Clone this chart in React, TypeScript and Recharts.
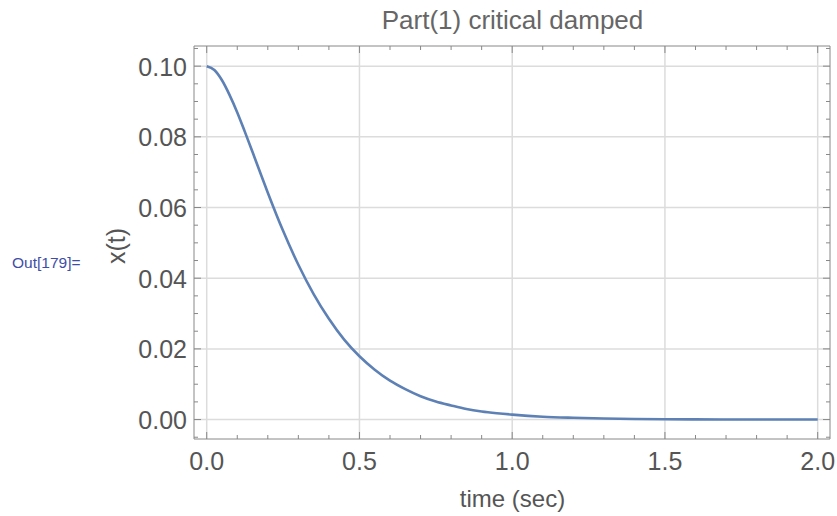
import { LineChart, Line, XAxis, YAxis, ReferenceLine } from "recharts";

// time samples (sec) and displacement
const time = [
  0, 0.025, 0.05, 0.075, 0.1, 0.125, 0.15, 0.175, 0.2, 0.25, 0.3, 0.35, 0.4, 0.45, 0.5, 0.55, 0.6, 0.65, 0.7,
  0.75, 0.8, 0.85, 0.9, 0.95, 1.0, 1.1, 1.2, 1.3, 1.4, 1.5, 1.6, 1.7, 1.8, 1.9, 2.0,
];
const xValues = [
  0.1, 0.0989, 0.096, 0.0918, 0.0869, 0.0814, 0.0757, 0.0699, 0.0642, 0.0534, 0.0438, 0.0355, 0.0285, 0.0226,
  0.0179, 0.0141, 0.011, 0.0086, 0.0066, 0.0051, 0.004, 0.003, 0.0023, 0.0018, 0.0014, 0.0008, 0.0005, 0.0003,
  0.00015, 0.00008, 0.00005, 0.00003, 0.00001, 0.00001, 0,
];

const xMajor = [0, 0.5, 1, 1.5, 2];
const xTicks = [0, 0.1, 0.2, 0.3, 0.4, 0.5, 0.6, 0.7, 0.8, 0.9, 1, 1.1, 1.2, 1.3, 1.4, 1.5, 1.6, 1.7, 1.8, 1.9, 2];
const yMajor = [0, 0.02, 0.04, 0.06, 0.08, 0.1];
const yTicks = [
  -0.005, 0, 0.005, 0.01, 0.015, 0.02, 0.025, 0.03, 0.035, 0.04, 0.045, 0.05, 0.055, 0.06, 0.065, 0.07, 0.075,
  0.08, 0.085, 0.09, 0.095, 0.1, 0.105,
];

const data = time.map((t, i) => ({ t, x: xValues[i] }));

const FRAME = "#888888";
const LABEL = "#555555";
const FONT = "'Liberation Sans', Arial, sans-serif";

const isMajor = (v: number, list: number[]) => list.some((m) => Math.abs(m - v) < 1e-9);

function BottomTick(props: any) {
  const { x, y, payload } = props;
  const major = isMajor(payload.value, xMajor);
  return (
    <g>
      <line x1={x} x2={x} y1={y} y2={y - (major ? 7 : 4)} stroke={FRAME} />
      {major && (
        <text x={x} y={y + 31} textAnchor="middle" fill={LABEL} fontSize={25} fontFamily={FONT}>
          {payload.value.toFixed(1)}
        </text>
      )}
    </g>
  );
}

function TopTick(props: any) {
  const { x, y, payload } = props;
  const major = isMajor(payload.value, xMajor);
  return <line x1={x} x2={x} y1={y} y2={y + (major ? 7 : 4)} stroke={FRAME} />;
}

function LeftTick(props: any) {
  const { x, y, payload } = props;
  const major = isMajor(payload.value, yMajor);
  return (
    <g>
      <line x1={x} x2={x + (major ? 7 : 4)} y1={y} y2={y} stroke={FRAME} />
      {major && (
        <text x={x - 7} y={y + 9.5} textAnchor="end" fill={LABEL} fontSize={25} fontFamily={FONT}>
          {payload.value.toFixed(2)}
        </text>
      )}
    </g>
  );
}

function RightTick(props: any) {
  const { x, y, payload } = props;
  const major = isMajor(payload.value, yMajor);
  return <line x1={x} x2={x - (major ? 7 : 4)} y1={y} y2={y} stroke={FRAME} />;
}

export default function App() {
  return (
    <div style={{ position: "absolute", left: 0, top: 0, width: 837, height: 516, background: "#fff" }}>
      <div
        style={{
          position: "absolute",
          left: 0,
          width: 1025,
          top: 7,
          lineHeight: 1,
          textAlign: "center",
          fontFamily: FONT,
          fontSize: 26,
          color: "#666",
          whiteSpace: "nowrap",
        }}
      >
        Part(1) critical damped
      </div>
      <div
        style={{
          position: "absolute",
          left: 12,
          top: 255,
          lineHeight: 1,
          fontFamily: FONT,
          fontSize: 15.5,
          color: "#3e4ea6",
          whiteSpace: "nowrap",
        }}
      >
        Out[179]=
      </div>
      <div
        style={{
          position: "absolute",
          left: 116,
          top: 246,
          lineHeight: 1,
          transform: "translate(-50%, -50%) rotate(-90deg)",
          fontFamily: FONT,
          fontSize: 25,
          color: "#555",
          whiteSpace: "nowrap",
        }}
      >
        x(t)
      </div>
      <div
        style={{
          position: "absolute",
          left: 0,
          width: 1025,
          top: 487,
          lineHeight: 1,
          textAlign: "center",
          fontFamily: FONT,
          fontSize: 24,
          color: "#555",
          whiteSpace: "nowrap",
        }}
      >
        time (sec)
      </div>
      <LineChart
        width={837}
        height={516}
        data={data}
        margin={{ top: 45, right: 6, bottom: 7, left: 134 }}
        style={{ position: "absolute", left: 0, top: 0 }}
      >
        <XAxis
          xAxisId="b"
          dataKey="t"
          type="number"
          domain={[-0.0416, 2.0403]}
          ticks={xTicks}
          tick={<BottomTick />}
          tickLine={false}
          tickSize={0}
          tickMargin={0}
          height={70}
          stroke={FRAME}
          allowDataOverflow
          interval={0}
        />
        <XAxis
          xAxisId="top"
          orientation="top"
          dataKey="t"
          type="number"
          domain={[-0.0416, 2.0403]}
          ticks={xTicks}
          tick={<TopTick />}
          tickLine={false}
          tickSize={0}
          tickMargin={0}
          height={1}
          stroke={FRAME}
          allowDataOverflow
          interval={0}
        />
        <YAxis
          yAxisId="l"
          type="number"
          domain={[-0.0055, 0.1057]}
          ticks={yTicks}
          tick={<LeftTick />}
          tickLine={false}
          tickSize={0}
          tickMargin={0}
          width={60}
          stroke={FRAME}
          allowDataOverflow
          interval={0}
        />
        <YAxis
          yAxisId="r"
          orientation="right"
          type="number"
          domain={[-0.0055, 0.1057]}
          ticks={yTicks}
          tick={<RightTick />}
          tickLine={false}
          tickSize={0}
          tickMargin={0}
          width={1}
          stroke={FRAME}
          allowDataOverflow
          interval={0}
        />
        {xMajor.map((v) => (
          <ReferenceLine key={"vx" + v} xAxisId="b" yAxisId="l" x={v} stroke="#dcdcdc" strokeWidth={1.5} />
        ))}
        {yMajor.map((v) => (
          <ReferenceLine key={"hy" + v} xAxisId="b" yAxisId="l" y={v} stroke="#dcdcdc" strokeWidth={1.5} />
        ))}
        <Line
          xAxisId="b"
          yAxisId="l"
          type="monotone"
          dataKey="x"
          stroke="#5e81b5"
          strokeWidth={2.6}
          dot={false}
          isAnimationActive={false}
        />
      </LineChart>
    </div>
  );
}
